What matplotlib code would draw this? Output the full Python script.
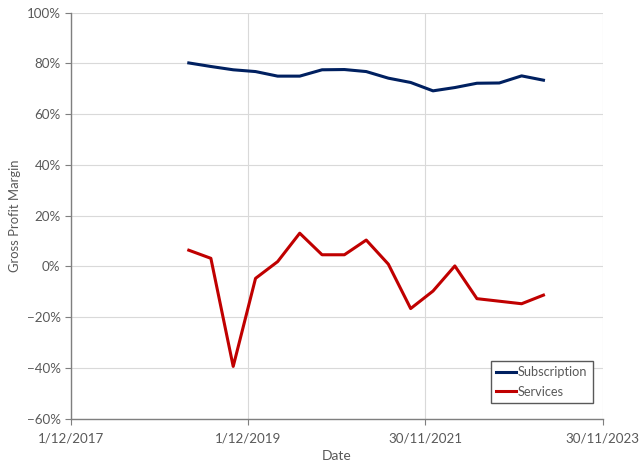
import matplotlib
matplotlib.use("Agg")
import matplotlib.pyplot as plt
import pandas as pd
from matplotlib.ticker import PercentFormatter

# quarter-end dates, Mar 2019 .. Mar 2023
dates = ["2019-03-31", "2019-06-30", "2019-09-30", "2019-12-31",
         "2020-03-31", "2020-06-30", "2020-09-30", "2020-12-31",
         "2021-03-31", "2021-06-30", "2021-09-30", "2021-12-31",
         "2022-03-31", "2022-06-30", "2022-09-30", "2022-12-31",
         "2023-03-31"]
subscription = [80.2, 78.8, 77.5, 76.8, 75.0, 75.0, 77.5, 77.6, 76.8,
                74.2, 72.5, 69.2, 70.5, 72.2, 72.3, 75.1, 73.4]
services = [6.4, 3.2, -39.4, -4.7, 1.9, 13.1, 4.6, 4.6, 10.4,
            0.9, -16.6, -9.7, 0.2, -12.7, -13.7, -14.7, -11.3]
xticks = ["2017-12-01", "2019-12-01", "2021-11-30", "2023-11-30"]
xtick_labels = ["1/12/2017", "1/12/2019", "30/11/2021", "30/11/2023"]

plt.rcParams["font.family"] = ["Lato", "DejaVu Sans"]
txt = "#595959"

x = pd.to_datetime(dates)
xt = pd.to_datetime(xticks)

fig = plt.figure(figsize=(6.4, 4.65), dpi=100)
ax = fig.add_axes([0.111, 0.0996, 0.8307, 0.8731])

ax.plot(x, subscription, color="#002060", lw=2.2, label="Subscription")
ax.plot(x, services, color="#C00000", lw=2.2, label="Services")

ax.set_xlim(xt[0], xt[-1])
ax.set_ylim(-60, 100)
ax.set_xticks(xt)
ax.set_xticklabels(xtick_labels)
ax.set_yticks(range(-60, 101, 20))
ax.yaxis.set_major_formatter(PercentFormatter(decimals=0))

ax.grid(True, color="#d9d9d9", lw=0.8)
ax.set_axisbelow(True)
for s in ("top", "right"):
    ax.spines[s].set_visible(False)
for s in ("left", "bottom"):
    ax.spines[s].set_color("#7f7f7f")
    ax.spines[s].set_linewidth(1.0)
ax.tick_params(colors="#7f7f7f", labelcolor=txt, labelsize=9.6, length=4)
ax.tick_params(axis="x", pad=6)

ax.set_xlabel("Date", color=txt, fontsize=10)
ax.set_ylabel("Gross Profit Margin", color=txt, fontsize=9.4, labelpad=4)

leg = ax.legend(loc="lower right", bbox_to_anchor=(0.981, 0.0387), fancybox=False,
                edgecolor="#595959", framealpha=1, fontsize=9.2,
                handlelength=1.6, handletextpad=0.15, borderpad=0.4,
                labelspacing=0.6, borderaxespad=0)
leg.get_frame().set_linewidth(1.0)
for t in leg.get_texts():
    t.set_color(txt)

fig.savefig("out.png", dpi=100)
